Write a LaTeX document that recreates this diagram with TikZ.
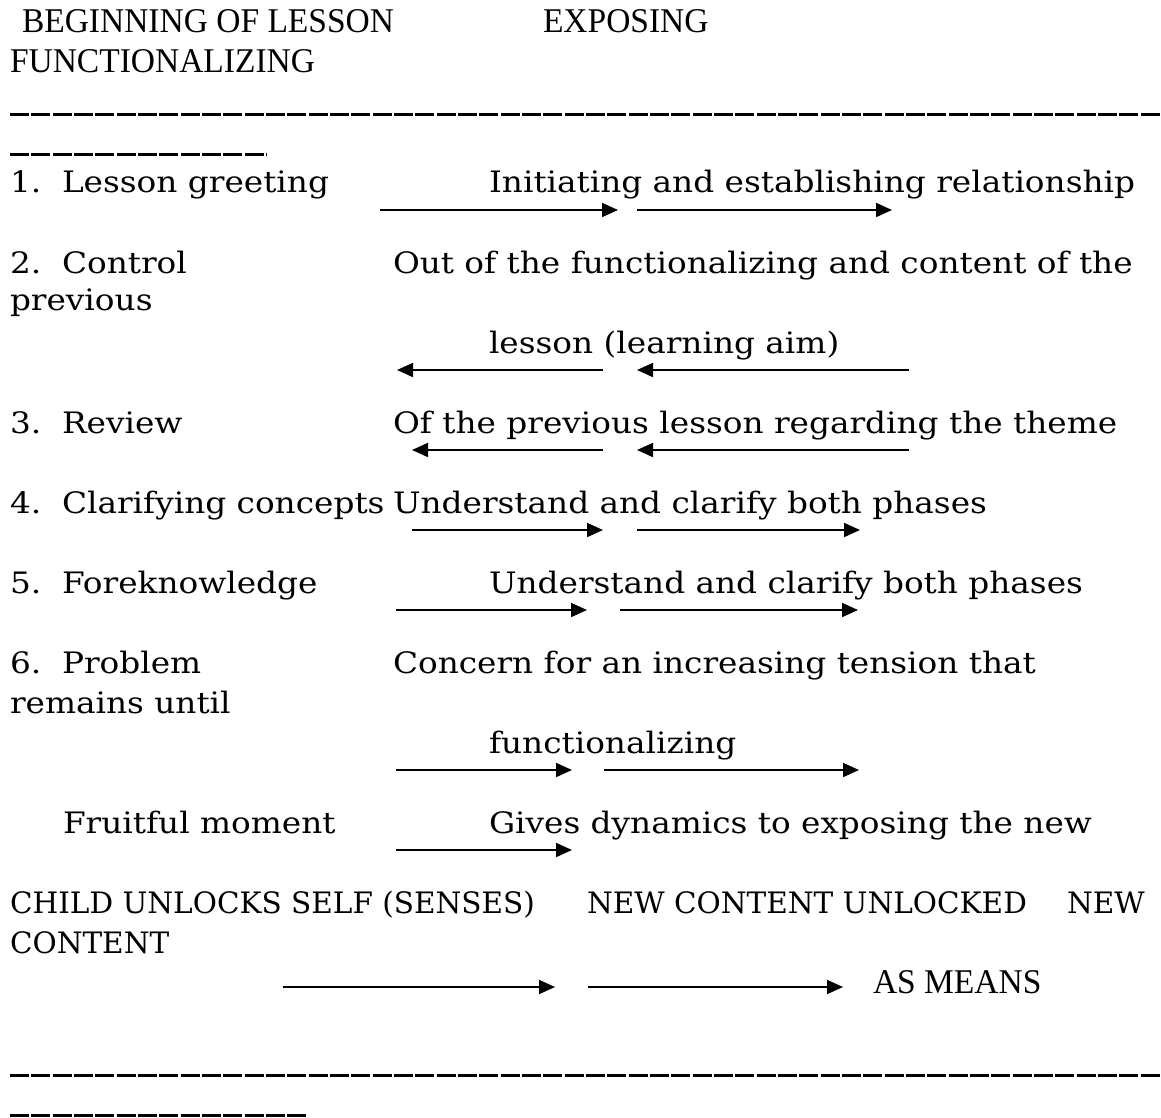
\documentclass[tikz,border=0pt]{standalone}
\usepackage{fontspec}
\usetikzlibrary{arrows.meta}
\newfontfamily\bodyf[FakeStretch=1.11]{DejaVu Serif}
\newfontfamily\bodyc{DejaVu Serif}
\newfontfamily\capf[FakeStretch=0.965]{Liberation Serif}
\begin{document}
\begin{tikzpicture}[x=1pt,y=-1pt,
  txt/.style={anchor=base west,inner sep=0pt,outer sep=0pt,font=\bodyf\fontsize{29.5}{30}\selectfont},
  uptxt/.style={anchor=base west,inner sep=0pt,outer sep=0pt,font=\bodyc\fontsize{29.5}{30}\selectfont},
  captxt/.style={anchor=base west,inner sep=0pt,outer sep=0pt,font=\capf\fontsize{34.7}{35}\selectfont},
  arr/.style={line width=1.8pt,-{Triangle[length=16pt,width=14pt]}},
  dashrule/.style={line width=3pt,dash pattern=on 19pt off 2.33pt}]
\useasboundingbox[fill=white] (0,0) rectangle (1161,1118);
% headers
\node[captxt] (h1) at (22,33) {BEGINNING OF LESSON};
\node[captxt] (h2) at (543,33) {EXPOSING};
\node[captxt] (h3) at (10,73) {FUNCTIONALIZING};
\draw[dashrule] (10,115) -- (1161,115);
\draw[dashrule] (10,155) -- (266,155);
% 1
\node[txt] (n1) at (10,193) {1.};
\node[txt] (l1) at (62,193) {Lesson greeting};
\node[txt] (r1) at (489,193) {Initiating and establishing relationship};
\draw[arr] (380,210) -- (618,210);
\draw[arr] (637,210) -- (892,210);
% 2
\node[txt] (n2) at (10,273) {2.};
\node[txt] (l2) at (62,273) {Control};
\node[txt] (r2) at (393,273) {Out of the functionalizing and content of the};
\node[txt] (l2b) at (10,310) {previous};
\node[txt] (r2b) at (489,353) {lesson (learning aim)};
\draw[arr] (603,370) -- (397,370);
\draw[arr] (909,370) -- (637,370);
% 3
\node[txt] (n3) at (10,433) {3.};
\node[txt] (l3) at (62,433) {Review};
\node[txt] (r3) at (393,433) {Of the previous lesson regarding the theme};
\draw[arr] (603,450) -- (412,450);
\draw[arr] (909,450) -- (637,450);
% 4
\node[txt] (n4) at (10,513) {4.};
\node[txt] (l4) at (62,513) {Clarifying concepts};
\node[txt] (r4) at (393,513) {Understand and clarify both phases};
\draw[arr] (412,530) -- (603,530);
\draw[arr] (637,530) -- (860,530);
% 5
\node[txt] (n5) at (10,593) {5.};
\node[txt] (l5) at (62,593) {Foreknowledge};
\node[txt] (r5) at (489,593) {Understand and clarify both phases};
\draw[arr] (396,610) -- (587,610);
\draw[arr] (620,610) -- (858,610);
% 6
\node[txt] (n6) at (10,673) {6.};
\node[txt] (l6) at (62,673) {Problem};
\node[txt] (r6) at (393,673) {Concern for an increasing tension that};
\node[txt] (l6b) at (10,713) {remains until};
\node[txt] (r6b) at (489,753) {functionalizing};
\draw[arr] (396,770) -- (572,770);
\draw[arr] (604,770) -- (859,770);
% fruitful
\node[txt] (l7) at (63,833) {Fruitful moment};
\node[txt] (r7) at (489,833) {Gives dynamics to exposing the new};
\draw[arr] (396,850) -- (572,850);
% bottom
\node[uptxt] (b1) at (10,913) {CHILD UNLOCKS SELF (SENSES)};
\node[uptxt] (b2) at (587,913) {NEW CONTENT UNLOCKED};
\node[uptxt] (b3) at (1067,913) {NEW};
\node[uptxt] (b4) at (10,953) {CONTENT};
\draw[arr] (283,987) -- (555,987);
\draw[arr] (588,987) -- (843,987);
\node[captxt] (b5) at (873,993) {AS MEANS};
\draw[dashrule] (10,1075) -- (1161,1075);
\draw[dashrule] (10,1115) -- (307,1115);
\end{tikzpicture}
\end{document}
